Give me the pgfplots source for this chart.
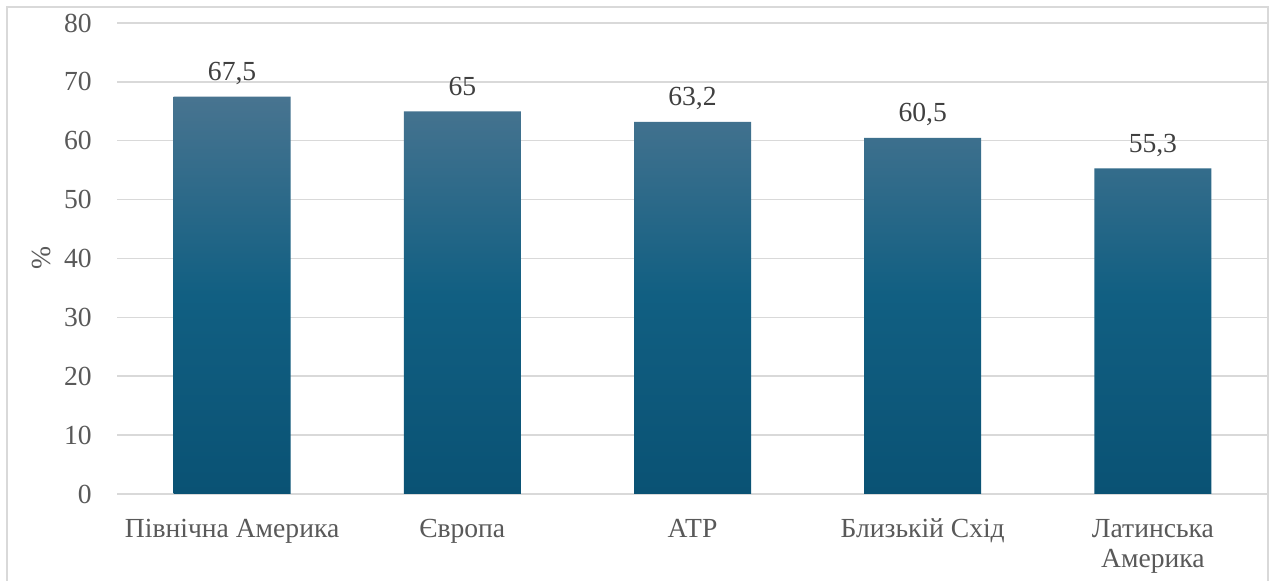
\documentclass[border=0pt]{standalone}
\usepackage{pgfplots}
\pgfplotsset{compat=1.18}
\usepackage{fontspec}
\setmainfont{Liberation Serif}
\definecolor{gridgray}{RGB}{217,217,217}
\definecolor{labgray}{RGB}{89,89,89}
\definecolor{valgray}{RGB}{64,64,64}
\definecolor{bartop}{RGB}{72,116,144}
\definecolor{barmid}{RGB}{17,95,130}
\definecolor{barbot}{RGB}{10,82,116}
\newcommand{\lblfont}{\fontsize{13.8}{15}\selectfont}
\newcommand{\latam}{\vtop{\halign{\hfil##\hfil\cr Латинська\cr Америка\cr}}}

\begin{document}
\begin{tikzpicture}
% page = 1269 x 581 px, 1 px = 0.5pt
\clip (0,0) rectangle (634.5pt,290.5pt);
\fill[white] (0,0) rectangle (634.5pt,290.5pt);
\draw[gridgray, line width=0.75pt] (3.5pt,-5pt) -- (3.5pt,287pt) -- (634pt,287pt) -- (634pt,-5pt);

\begin{axis}[
    at={(58.5pt,43.5pt)}, anchor=south west,
    scale only axis,
    width=575.5pt, height=235.5pt,
    ymin=0, ymax=80, ytick={0,10,...,80},
    xmin=-0.5, xmax=4.5,
    xtick=data,
    xticklabels={Північна Америка, Європа, АТР, Близькій Схід, \latam},
    ymajorgrids,
    grid style={gridgray, line width=0.75pt},
    axis line style={draw=none},
    tick style={draw=none},
    major tick length=0pt,
    /pgf/number format/assume math mode=true,
    tick label style={font=\lblfont, text=labgray, inner sep=0pt},
    yticklabel style={anchor=east, xshift=-12.5pt},
    xticklabel style={anchor=base, yshift=-22pt},
    ybar, bar width=58.5pt,
    point meta=explicit symbolic,
    nodes near coords,
    every node near coord/.append style={font=\lblfont, text=valgray, anchor=base, inner sep=0pt, yshift=8pt},
]
\addplot[draw=none, top color=bartop, bottom color=barbot, middle color=barmid]
  coordinates {(0,67.5)[67,5] (1,65)[65] (2,63.2)[63,2] (3,60.5)[60,5] (4,55.3)[55,3]};
\end{axis}

\node[rotate=90, font=\lblfont, text=labgray, inner sep=0pt] at (21pt,161.5pt) {\%};
\end{tikzpicture}
\end{document}
